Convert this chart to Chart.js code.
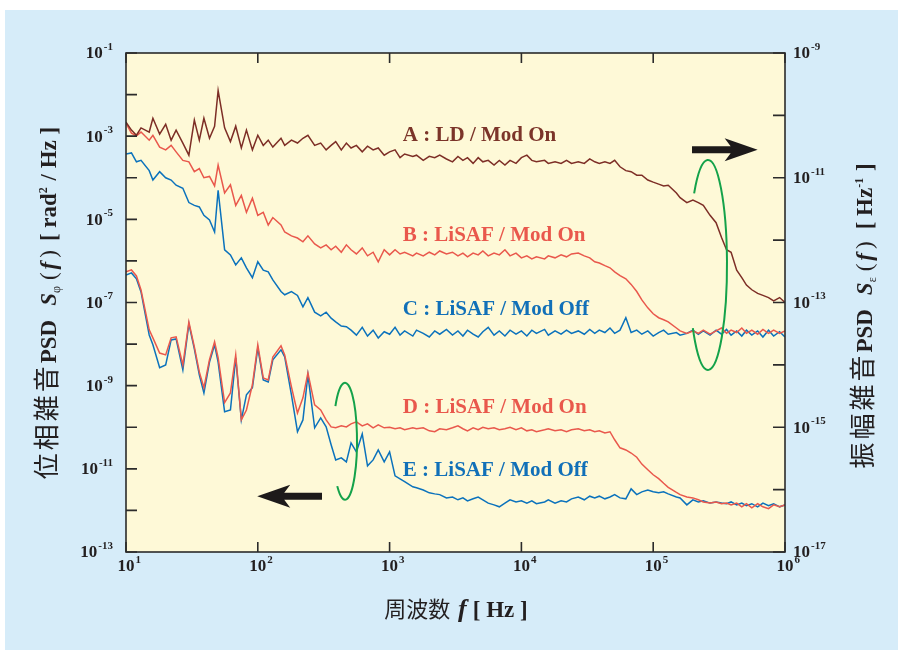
<!DOCTYPE html>
<html lang="ja">
<head>
<meta charset="UTF-8">
<title>位相雑音・振幅雑音 PSD</title>
<script src="https://cdn.jsdelivr.net/npm/chart.js"></script>
<style>
  html, body { margin: 0; padding: 0; background: #ffffff; }
</style>
</head>
<body>
<canvas id="psdChart" width="898" height="650"></canvas>
<script>
// frequency grid [Hz]
const freq = [
  10, 11, 12, 13, 15, 16, 18, 20, 22, 24, 27, 30, 33, 36, 39, 43, 47, 50, 56, 62, 68, 75, 82, 91,
  100, 110, 120, 130, 150, 160, 180, 200, 220, 240, 270, 300, 330, 360, 390, 430, 470, 510, 560, 620, 680, 750, 820, 910,
  1e3, 1.1e3, 1.2e3, 1.3e3, 1.5e3, 1.6e3, 1.8e3, 2e3, 2.2e3, 2.4e3, 2.7e3, 3e3, 3.3e3, 3.6e3, 3.9e3, 4.3e3, 4.7e3, 5.1e3, 5.6e3, 6.2e3, 6.8e3, 7.5e3, 8.2e3, 9.1e3,
  1e4, 1.1e4, 1.2e4, 1.3e4, 1.5e4, 1.6e4, 1.8e4, 2e4, 2.2e4, 2.4e4, 2.7e4, 3e4, 3.3e4, 3.6e4, 3.9e4, 4.3e4, 4.7e4, 5.1e4, 5.6e4, 6.2e4, 6.8e4, 7.5e4, 8.2e4, 9.1e4,
  1e5, 1.1e5, 1.2e5, 1.3e5, 1.5e5, 1.6e5, 1.8e5, 2e5, 2.2e5, 2.4e5, 2.7e5, 3e5, 3.3e5, 3.6e5, 3.9e5, 4.3e5, 4.7e5, 5.1e5, 5.6e5, 6.2e5, 6.8e5, 7.5e5, 8.2e5, 9.1e5,
  1e6
];

// amplitude noise S_eps(f) [1/Hz]  (right axis)
const psdA = [
  7.8e-11, 5.8e-11, 4.8e-11, 6.3e-11, 5.4e-11, 9e-11, 5e-11, 7.2e-11, 4e-11, 5.8e-11, 3.6e-11, 2.3e-11, 8.4e-11, 4e-11, 9e-11, 4.3e-11, 6.7e-11, 2.5e-10, 6.3e-11, 3.8e-11, 6.7e-11, 3e-11, 5.8e-11, 2.8e-11,
  4.8e-11, 3.3e-11, 4e-11, 3.1e-11, 4.3e-11, 3.3e-11, 4e-11, 3.6e-11, 4.3e-11, 4.8e-11, 3.3e-11, 3.6e-11, 2.8e-11, 3.3e-11, 3.8e-11, 2.8e-11, 3.6e-11, 3e-11, 3.3e-11, 2.6e-11, 3.2e-11, 2.8e-11, 3e-11, 2.3e-11,
  2.6e-11, 2.8e-11, 2.1e-11, 2.4e-11, 2.2e-11, 2.3e-11, 1.9e-11, 2.2e-11, 2.1e-11, 2.3e-11, 2e-11, 1.8e-11, 2.2e-11, 1.9e-11, 2.1e-11, 1.7e-11, 2.1e-11, 1.8e-11, 1.9e-11, 1.6e-11, 1.9e-11, 1.6e-11, 1.9e-11, 1.7e-11,
  2.1e-11, 2.3e-11, 1.9e-11, 1.8e-11, 1.9e-11, 1.7e-11, 1.8e-11, 1.7e-11, 1.9e-11, 1.7e-11, 1.8e-11, 1.7e-11, 2e-11, 1.8e-11, 1.7e-11, 1.8e-11, 1.7e-11, 1.9e-11, 1.5e-11, 1.3e-11, 1.25e-11, 1.1e-11, 1.1e-11, 9.2e-12,
  8.5e-12, 7.9e-12, 7.4e-12, 7.6e-12, 5.7e-12, 4.8e-12, 4e-12, 4.4e-12, 4e-12, 3.6e-12, 2.5e-12, 1.9e-12, 1.1e-12, 7e-13, 6.4e-13, 3.3e-13, 2.5e-13, 1.9e-13, 1.6e-13, 1.4e-13, 1.3e-13, 1.2e-13, 1.06e-13, 1.2e-13,
  1e-13
];
const psdB = [
  7.5e-11, 5.2e-11, 4.7e-11, 5.4e-11, 4e-11, 4.8e-11, 3.1e-11, 2.8e-11, 3.3e-11, 2.6e-11, 1.9e-11, 1.8e-11, 1.25e-11, 1.4e-11, 1e-11, 1.05e-11, 7.4e-12, 1.6e-11, 5.7e-12, 7.7e-12, 3.6e-12, 5.2e-12, 2.8e-12, 4.7e-12,
  2.5e-12, 2.8e-12, 1.75e-12, 2.3e-12, 1.75e-12, 1.35e-12, 1.17e-12, 1.08e-12, 9.4e-13, 1.17e-12, 8.7e-13, 7.5e-13, 8.4e-13, 7e-13, 8e-13, 6.4e-13, 8.4e-13, 7e-13, 6e-13, 7.5e-13, 5.6e-13, 6.4e-13, 4.5e-13, 7e-13,
  5.8e-13, 7e-13, 6e-13, 6.4e-13, 5.6e-13, 6.2e-13, 5.6e-13, 6.4e-13, 5.8e-13, 6.7e-13, 6e-13, 6.4e-13, 5.6e-13, 6.2e-13, 5.4e-13, 6.2e-13, 5.8e-13, 6.7e-13, 5.6e-13, 6.2e-13, 5.8e-13, 7e-13, 5.6e-13, 6.2e-13,
  5.2e-13, 5.6e-13, 5e-13, 5.4e-13, 5e-13, 5.6e-13, 5.2e-13, 5.8e-13, 5.4e-13, 6e-13, 6.2e-13, 5.6e-13, 5.2e-13, 4.5e-13, 4.3e-13, 3.9e-13, 3.6e-13, 3.1e-13, 2.7e-13, 2.4e-13, 1.95e-13, 1.5e-13, 1.1e-13, 8.2e-14,
  6.6e-14, 5.7e-14, 5.3e-14, 4.9e-14, 3.9e-14, 3.5e-14, 3.2e-14, 3.5e-14, 3.2e-14, 3.6e-14, 3.1e-14, 3.5e-14, 3.9e-14, 3.2e-14, 3.6e-14, 3.3e-14, 3.9e-14, 3.2e-14, 3.6e-14, 3.1e-14, 3.7e-14, 3.2e-14, 3.6e-14, 3.2e-14,
  3.5e-14
];
const psdC = [
  2.4e-11, 2.5e-11, 1.8e-11, 1.9e-11, 1.3e-11, 9.2e-12, 1.25e-11, 1e-11, 9.2e-12, 7.6e-12, 6.8e-12, 4e-12, 3.6e-12, 3.4e-12, 2.5e-12, 2.1e-12, 1.35e-12, 6.3e-12, 7e-13, 5.8e-13, 4e-13, 5.2e-13, 3.6e-13, 2.5e-13,
  4.5e-13, 3.3e-13, 3.1e-13, 2.3e-13, 1.5e-13, 1.33e-13, 1.5e-13, 1.3e-13, 8.5e-14, 1.2e-13, 7e-14, 6.1e-14, 7e-14, 5.6e-14, 4.9e-14, 4.2e-14, 4.1e-14, 3.6e-14, 3e-14, 4e-14, 2.9e-14, 3.6e-14, 2.7e-14, 3.4e-14,
  3.1e-14, 4e-14, 3e-14, 3.5e-14, 2.9e-14, 3.6e-14, 3.2e-14, 2.8e-14, 3.5e-14, 3.1e-14, 3.7e-14, 3e-14, 3.5e-14, 2.9e-14, 3.6e-14, 3.1e-14, 2.8e-14, 3.4e-14, 4e-14, 3e-14, 3.5e-14, 2.9e-14, 3.6e-14, 3.1e-14,
  3.5e-14, 2.9e-14, 3.6e-14, 3.2e-14, 3.7e-14, 3e-14, 3.5e-14, 3.1e-14, 3.6e-14, 3.2e-14, 3.5e-14, 3.1e-14, 3.7e-14, 3.2e-14, 3.6e-14, 3.3e-14, 3.9e-14, 3.2e-14, 3.6e-14, 5.7e-14, 3.3e-14, 3.6e-14, 3.1e-14, 3.5e-14,
  2.9e-14, 3.3e-14, 3.6e-14, 3.1e-14, 3.3e-14, 3e-14, 3.2e-14, 3.6e-14, 3.1e-14, 3.5e-14, 3e-14, 3.6e-14, 3.1e-14, 3.7e-14, 3e-14, 3.5e-14, 2.9e-14, 3.6e-14, 3e-14, 3.5e-14, 2.8e-14, 3.6e-14, 2.9e-14, 3.4e-14,
  2.8e-14
];

// phase noise S_phi(f) [rad^2/Hz]  (left axis)
const psdD = [
  5.44e-7, 6.08e-7, 4.36e-7, 2e-7, 2.2e-8, 1.41e-8, 6.1e-9, 5.5e-9, 1.41e-8, 1.49e-8, 3.16e-9, 3.4e-8, 8.6e-9, 2.15e-9, 8.9e-10, 4.2e-9, 1.13e-8, 4.7e-9, 3.9e-10, 6.7e-10, 5.5e-9, 1.5e-10, 2.6e-10, 1.05e-9,
  9.6e-9, 1.54e-9, 1.38e-9, 4.9e-9, 9.1e-9, 5.5e-9, 9.4e-10, 2.2e-10, 5.1e-10, 2.03e-9, 3.45e-10, 2.6e-10, 1.5e-10, 1.02e-10, 9.7e-11, 1.08e-10, 1.02e-10, 1.21e-10, 1.35e-10, 1.08e-10, 1.21e-10, 9.7e-11, 1.14e-10, 9.7e-11,
  1e-10, 9.2e-11, 9.7e-11, 8.7e-11, 9.7e-11, 9.2e-11, 9.7e-11, 8.2e-11, 7.8e-11, 9.2e-11, 8.7e-11, 9.7e-11, 1.08e-10, 9.2e-11, 8.2e-11, 9.7e-11, 8.7e-11, 1e-10, 9.2e-11, 9.7e-11, 8.7e-11, 9.2e-11, 1e-10, 8.7e-11,
  9.7e-11, 8.2e-11, 8.7e-11, 7.8e-11, 8.7e-11, 9.2e-11, 8.2e-11, 8.7e-11, 7.8e-11, 8.7e-11, 9.2e-11, 8.2e-11, 8.7e-11, 7.8e-11, 8.2e-11, 7.3e-11, 7.8e-11, 5e-11, 3.2e-11, 2.85e-11, 2.4e-11, 1.9e-11, 1.3e-11, 9.5e-12,
  7.2e-12, 5.8e-12, 4.5e-12, 3.6e-12, 2.7e-12, 2.4e-12, 2.1e-12, 2e-12, 1.8e-12, 1.6e-12, 1.5e-12, 1.6e-12, 1.45e-12, 1.5e-12, 1.36e-12, 1.5e-12, 1.22e-12, 1.45e-12, 1.15e-12, 1.45e-12, 1.22e-12, 1.1e-12, 1.36e-12, 1.22e-12,
  1.36e-12
];
const psdE = [
  4.6e-7, 5.15e-7, 3.7e-7, 1.8e-7, 1.66e-8, 9.6e-9, 2.7e-9, 3.16e-9, 1.26e-8, 1.33e-8, 2.4e-9, 3.06e-8, 7.7e-9, 1.82e-9, 6.7e-10, 3.7e-9, 9.6e-9, 3.7e-9, 2.35e-10, 2.6e-10, 4.7e-9, 1.5e-10, 6e-10, 8.9e-10,
  8.1e-9, 1.38e-9, 1.23e-9, 4.2e-9, 7.3e-9, 4.9e-9, 6e-10, 7.8e-11, 1.5e-10, 1.82e-9, 9.7e-11, 1.68e-10, 1.02e-10, 3.8e-11, 1.64e-11, 1.84e-11, 1.47e-11, 4.2e-11, 2.56e-11, 6.9e-11, 1.18e-11, 1.64e-11, 2.86e-11, 1.47e-11,
  2.56e-11, 6.8e-12, 5.75e-12, 4.9e-12, 3.7e-12, 3.5e-12, 3.1e-12, 2.65e-12, 2.5e-12, 2.4e-12, 2e-12, 2.1e-12, 1.8e-12, 2e-12, 1.7e-12, 1.9e-12, 2.1e-12, 1.8e-12, 1.5e-12, 1.36e-12, 1.22e-12, 1.5e-12, 1.8e-12, 1.6e-12,
  1.7e-12, 1.5e-12, 1.7e-12, 1.45e-12, 1.6e-12, 1.8e-12, 1.5e-12, 1.7e-12, 1.6e-12, 1.9e-12, 2.1e-12, 1.8e-12, 2.2e-12, 2e-12, 2.2e-12, 1.9e-12, 2.1e-12, 2.4e-12, 2e-12, 1.9e-12, 3.3e-12, 2.4e-12, 2.8e-12, 3.1e-12,
  2.8e-12, 2.65e-12, 2.8e-12, 2.5e-12, 2.1e-12, 2e-12, 1.36e-12, 1.8e-12, 1.6e-12, 1.7e-12, 1.5e-12, 1.6e-12, 1.5e-12, 1.45e-12, 1.6e-12, 1.36e-12, 1.5e-12, 1.3e-12, 1.45e-12, 1.22e-12, 1.5e-12, 1.3e-12, 1.45e-12, 1.22e-12,
  1.36e-12
];

// axis ticks (decade exponents) and labelled ones
const xTickExps = [1, 2, 3, 4, 5, 6];
const leftTickExps = [-1, -2, -3, -4, -5, -6, -7, -8, -9, -10, -11, -12, -13];
const leftLabelExps = [-1, -3, -5, -7, -9, -11, -13];
const rightTickExps = [-9, -10, -11, -12, -13, -14, -15, -16, -17];
const rightLabelExps = [-9, -11, -13, -15, -17];

const colBrown = '#7d2e26';
const colRed = '#e9584c';
const colBlue = '#0b72bc';
const colGreen = '#14a24a';
const colInk = '#231f20';

// series labels, in data units (frequency, psd on the given axis)
const seriesLabels = [
  { text: 'A : LD / Mod On', f: 1260, v: 4.8e-11, axis: 'yR', color: '#7b3429' },
  { text: 'B : LiSAF / Mod On', f: 1260, v: 1.2e-12, axis: 'yR', color: colRed },
  { text: 'C : LiSAF / Mod Off', f: 1260, v: 7.8e-14, axis: 'yR', color: '#1170b8' },
  { text: 'D : LiSAF / Mod On', f: 1260, v: 3e-10, axis: 'yL', color: colRed },
  { text: 'E : LiSAF / Mod Off', f: 1260, v: 9.2e-12, axis: 'yL', color: '#1170b8' }
];
// arrows pointing to the axis that applies
const arrows = [
  { f0: 1.97e5, f1: 6.2e5, v: 2.8e-11, axis: 'yR' },
  { f0: 307, f1: 99, v: 2.2e-12, axis: 'yL' }
];
// green rings marking groups of curves
const rings = [
  { f0: 1.87e5, f1: 3.63e5, v0: 1.93e-11, v1: 8.3e-15, axis: 'yR', a0: -137, a1: 143 },
  { f0: 372, f1: 566, v0: 1.17e-9, v1: 1.8e-12, axis: 'yL', a0: -143, a1: 130 }
];

const serif = '"Liberation Serif", "Times New Roman", serif';
const cjk = '"Noto Sans CJK JP", sans-serif';

function series(values, axis, color) {
  return {
    data: freq.map((f, i) => ({ x: f, y: values[i] })),
    yAxisID: axis,
    borderColor: color,
    borderWidth: 1.5,
    pointRadius: 0,
    tension: 0,
    fill: false
  };
}

function powLabel(ctx, exp, x, y, align) {
  const base = '10';
  const sup = String(exp);
  ctx.font = 'bold 17px ' + serif;
  const wb = ctx.measureText(base).width;
  ctx.font = 'bold 11px ' + serif;
  const ws = ctx.measureText(sup).width;
  let x0 = x - wb / 2;
  if (align === 'right') x0 = x - wb - ws - 1;
  if (align === 'left') x0 = x;
  ctx.textAlign = 'left';
  ctx.textBaseline = 'middle';
  ctx.font = 'bold 17px ' + serif;
  ctx.fillText(base, x0, y);
  ctx.font = 'bold 11px ' + serif;
  ctx.fillText(sup, x0 + wb + 1, y - 7);
}

// text made of pieces with different fonts, centred on (x, y baseline)
function richText(ctx, parts, x, y, rot) {
  ctx.save();
  ctx.translate(x, y);
  ctx.rotate(rot);
  let total = 0;
  parts.forEach(p => {
    ctx.font = p.font;
    p.w = ctx.measureText(p.t).width + (p.gap || 0);
    total += p.w;
  });
  let cx = -total / 2;
  ctx.textAlign = 'left';
  ctx.textBaseline = 'alphabetic';
  parts.forEach(p => {
    ctx.font = p.font;
    ctx.fillText(p.t, cx, p.dy || 0);
    cx += p.w;
  });
  ctx.restore();
}

function cjkParts(text, size, gap) {
  return Array.from(text).map(ch => ({ t: ch, font: size + 'px ' + cjk, gap: gap }));
}

const panelPlugin = {
  id: 'panel',
  beforeDraw(chart) {
    const { ctx, chartArea: a } = chart;
    ctx.save();
    ctx.fillStyle = '#ffffff';
    ctx.fillRect(0, 0, chart.width, chart.height);
    ctx.fillStyle = '#d6ecf9';
    ctx.fillRect(5, 10, chart.width - 5, chart.height - 10);
    ctx.fillStyle = '#fef9d7';
    ctx.fillRect(a.left, a.top, a.right - a.left, a.bottom - a.top);
    ctx.restore();
  }
};

const framePlugin = {
  id: 'frame',
  afterDatasetsDraw(chart) {
    const { ctx, chartArea: a, scales } = chart;
    const sx = scales.x, sl = scales.yL, sr = scales.yR;
    ctx.save();

    // annotations: rings
    ctx.strokeStyle = colGreen;
    ctx.lineWidth = 2;
    rings.forEach(r => {
      const s = scales[r.axis];
      const x0 = sx.getPixelForValue(r.f0), x1 = sx.getPixelForValue(r.f1);
      const y0 = s.getPixelForValue(r.v0), y1 = s.getPixelForValue(r.v1);
      ctx.beginPath();
      ctx.ellipse((x0 + x1) / 2, (y0 + y1) / 2, (x1 - x0) / 2, (y1 - y0) / 2, 0,
        r.a0 * Math.PI / 180, r.a1 * Math.PI / 180);
      ctx.stroke();
    });

    // arrows
    ctx.fillStyle = '#1d1a1a';
    arrows.forEach(ar => {
      const s = scales[ar.axis];
      const xa = sx.getPixelForValue(ar.f0), xb = sx.getPixelForValue(ar.f1);
      const y = s.getPixelForValue(ar.v);
      const d = Math.sign(xb - xa);
      const hb = xb - d * 33, notch = xb - d * 27;
      ctx.beginPath();
      ctx.moveTo(xa, y - 3.5);
      ctx.lineTo(notch, y - 3.5);
      ctx.lineTo(hb, y - 11.5);
      ctx.lineTo(xb, y);
      ctx.lineTo(hb, y + 11.5);
      ctx.lineTo(notch, y + 3.5);
      ctx.lineTo(xa, y + 3.5);
      ctx.closePath();
      ctx.fill();
    });

    // series labels
    ctx.textAlign = 'left';
    ctx.textBaseline = 'middle';
    ctx.font = 'bold 21px ' + serif;
    seriesLabels.forEach(l => {
      ctx.fillStyle = l.color;
      ctx.fillText(l.text, sx.getPixelForValue(l.f), scales[l.axis].getPixelForValue(l.v));
    });

    // frame and ticks
    ctx.strokeStyle = '#2b2b2b';
    ctx.lineWidth = 1.6;
    ctx.strokeRect(a.left, a.top, a.right - a.left, a.bottom - a.top);
    ctx.beginPath();
    xTickExps.forEach(e => {
      const x = sx.getPixelForValue(Math.pow(10, e));
      ctx.moveTo(x, a.bottom); ctx.lineTo(x, a.bottom - 10);
      ctx.moveTo(x, a.top); ctx.lineTo(x, a.top + 10);
    });
    leftTickExps.forEach(e => {
      const y = sl.getPixelForValue(Math.pow(10, e));
      ctx.moveTo(a.left, y); ctx.lineTo(a.left + 11, y);
    });
    rightTickExps.forEach(e => {
      const y = sr.getPixelForValue(Math.pow(10, e));
      ctx.moveTo(a.right, y); ctx.lineTo(a.right - 12, y);
    });
    ctx.stroke();

    // tick labels
    ctx.fillStyle = colInk;
    xTickExps.forEach(e => powLabel(ctx, e, sx.getPixelForValue(Math.pow(10, e)), a.bottom + 15, 'center'));
    leftLabelExps.forEach(e => powLabel(ctx, e, a.left - 13, sl.getPixelForValue(Math.pow(10, e)) + 1, 'right'));
    rightLabelExps.forEach(e => powLabel(ctx, e, a.right + 8, sr.getPixelForValue(Math.pow(10, e)) + 1, 'left'));

    // axis titles
    const b23 = 'bold 23px ' + serif;
    const i23 = 'italic bold 23px ' + serif;
    const r23 = '23px ' + serif;
    richText(ctx, cjkParts('位相雑音', 26, 3).concat([
      { t: 'PSD', font: b23, gap: 14 },
      { t: 'S', font: i23 },
      { t: 'φ', font: '12px ' + serif, dy: 4, gap: 6 },
      { t: '(', font: r23, gap: 3 },
      { t: 'f', font: i23, gap: 4 },
      { t: ')', font: r23, gap: 9 },
      { t: '[ rad', font: b23 },
      { t: '2', font: 'bold 12px ' + serif, dy: -9, gap: 1 },
      { t: ' / Hz ]', font: b23 }
    ]), 56, 303, -Math.PI / 2);

    richText(ctx, cjkParts('振幅雑音', 26, 3).concat([
      { t: 'PSD', font: b23, gap: 14 },
      { t: 'S', font: i23 },
      { t: 'ε', font: '12px ' + serif, dy: 4, gap: 6 },
      { t: '(', font: r23, gap: 3 },
      { t: 'f', font: i23, gap: 4 },
      { t: ')', font: r23, gap: 12 },
      { t: '[ Hz', font: b23 },
      { t: '-1', font: 'bold 12px ' + serif, dy: -9, gap: 1 },
      { t: ' ]', font: b23 }
    ]), 872, 316, -Math.PI / 2);

    richText(ctx, cjkParts('周波数', 22, 0).concat([
      { t: ' ', font: b23, gap: 2 },
      { t: 'f', font: 'italic bold 26px ' + serif, gap: 6 },
      { t: '[ Hz ]', font: b23 }
    ]), 456, 617, 0);

    ctx.restore();
  }
};

new Chart(document.getElementById('psdChart'), {
  type: 'line',
  data: {
    datasets: [
      series(psdA, 'yR', colBrown),
      series(psdB, 'yR', colRed),
      series(psdC, 'yR', colBlue),
      series(psdD, 'yL', colRed),
      series(psdE, 'yL', colBlue)
    ]
  },
  options: {
    responsive: false,
    animation: false,
    layout: { padding: { left: 126, top: 53, right: 113, bottom: 98 } },
    plugins: { legend: { display: false }, tooltip: { enabled: false } },
    scales: {
      x: { type: 'logarithmic', min: 10, max: 1e6, display: false },
      yL: { type: 'logarithmic', position: 'left', min: 1e-13, max: 1e-1, display: false },
      yR: { type: 'logarithmic', position: 'right', min: 1e-17, max: 1e-9, display: false }
    }
  },
  plugins: [panelPlugin, framePlugin]
});
</script>
</body>
</html>
